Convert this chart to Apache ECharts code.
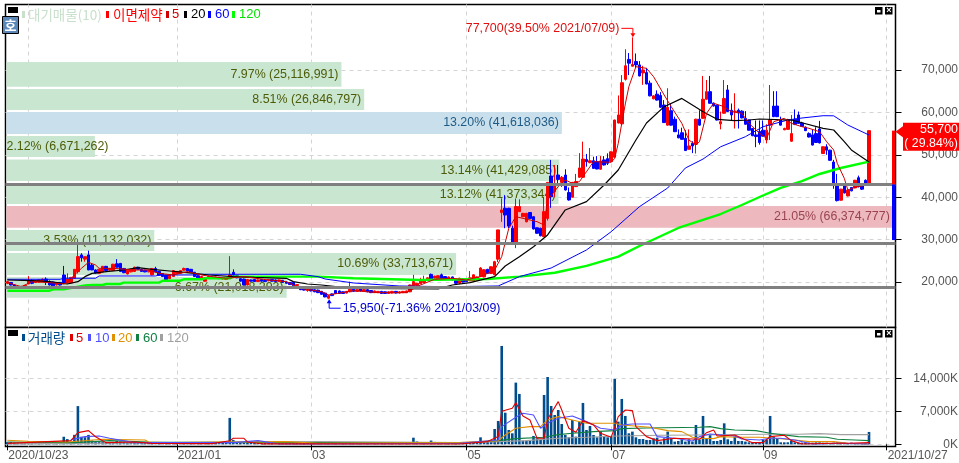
<!DOCTYPE html>
<html><head><meta charset="utf-8">
<style>html,body{margin:0;padding:0;background:#fff}#c{width:959px;height:463px}</style>
<script src="https://cdn.jsdelivr.net/npm/echarts@6/dist/echarts.min.js"></script>
</head><body><div id="c"></div>
<script>
const tickIdx=[0,48,86,130,171,214,249];
const tickText=['2020/10/23','2021/01','03','05','07','09','2021/10/27'];
const gridIdx=[6,48,86,130,171,214,249];
const slotCount=252;
const priceTicks=[20000,30000,40000,50000,60000,70000];
const volTicks=[0,7000,14000];
// open, close, low, high
const candles=[
[19700,20100,19500,20200],[19900,19300,19200,20000],[19300,18900,18800,19400],[18900,18800,18700,19100],[18800,19000,18700,19100],[19000,19200,18900,19300],[19550,20300,19500,21400],[20300,19700,19500,20600],[19900,20300,19800,20400],[20000,20500,19900,20600],
[20100,20700,20000,20800],[20700,20200,19300,21100],[20100,19300,19200,20400],[20000,19100,19000,20100],[19300,19900,19200,20000],[19900,19300,19200,20000],[21660,19800,19700,23800],[19800,20700,19700,22050],[19800,21100,19700,21150],[20900,23000,20800,23000],
[22450,26000,22000,28740],[26400,25700,24800,26800],[25400,25990,24800,26000],[26400,22850,22800,27400],[24000,22850,22800,24400],[22850,22100,22000,23000],[22050,23000,21950,23100],[22400,23700,22300,23800],[23700,22700,22600,23800],[22800,23200,22700,23300],
[22700,24200,22600,24300],[24300,23500,23400,25400],[24400,22500,22400,24500],[23200,22200,22100,23300],[21900,22800,21800,22900],[22400,23000,22300,23100],[22500,23500,22400,23600],[23500,23000,22900,23600],[23000,22500,22400,23100],[22800,22400,22300,22900],
[22400,22800,22300,22900],[21700,23200,21600,23300],[23200,22400,22300,23600],[22500,21600,21500,22600],[22000,21300,21200,22100],[21600,20600,20500,21700],[20800,21700,20700,21800],[21300,22700,21200,22800],[22000,22500,21900,22600],[22100,22700,22000,22800],
[22800,23200,22700,23400],[23200,22600,22500,23300],[23000,22300,22200,23100],[22300,21300,21200,22400],[21500,21000,20900,21600],[21000,21300,20900,21400],[20200,21000,20100,21100],[21000,21300,20900,21500],[21200,20900,20800,21300],[20900,21200,20800,21300],
[21100,20800,20700,21200],[20700,21000,20600,21100],[20600,21000,20500,21100],[21200,21700,21000,26100],[22300,21600,21500,23000],[21500,21000,20900,21600],[20800,20200,20100,20900],[20700,19300,19200,20800],[19300,20600,19200,20700],[20500,20200,20100,20600],
[20600,20100,20000,20700],[20100,20500,20000,20600],[20600,20200,20100,20700],[20400,20100,20000,20500],[20300,20600,20200,20700],[20600,20200,20100,20700],[20500,20100,20000,20600],[20200,20500,20100,20600],[20400,19900,19800,20500],[20000,19700,19600,20100],
[19900,19400,19300,20000],[19900,19100,19000,20000],[19200,19400,19100,19500],[18600,18200,18100,18700],[18600,18100,18000,18700],[18000,18200,17700,18300],[18300,17900,17800,18400],[18200,17700,17600,18300],[18100,17500,17400,18200],[17800,17100,17000,17900],
[17400,16500,16400,17500],[16200,16800,15950,17000],[17200,16800,16700,17300],[18000,17300,17200,18100],[17900,17300,17200,18000],[17700,17300,17200,17800],[17400,17800,17300,17900],[17700,18300,17600,20100],[18300,17800,17700,18400],[17800,18200,17700,18300],
[18400,17900,17800,18500],[17800,18200,17700,18300],[18200,17700,17600,18300],[18000,17500,17400,18100],[17500,17900,17400,18000],[17500,17800,17400,17900],[17800,17300,17200,17900],[17700,17300,17200,17800],[17300,17700,17200,17800],[17400,17800,17300,17900],
[17800,17400,17300,17900],[17400,17700,17300,17800],[17500,17800,17400,17900],[17500,17900,17400,18000],[17700,19300,17600,19400],[18500,20100,18400,21700],[19200,19700,19100,19800],[19600,20500,19500,21000],[19900,20500,19800,21500],[20500,21000,20400,21100],
[21800,20700,20600,22000],[20900,21400,20800,21500],[20700,21500,20600,21600],[21700,20800,20700,22000],[21300,20700,20600,21400],[20700,21200,20600,21300],[21200,20500,20400,21300],[20400,19700,19600,20500],[19700,20900,19600,21000],[20700,20000,19900,20800],
[20500,20100,20000,20600],[20300,21000,20200,22600],[20300,21700,20200,21800],[20500,21200,20400,21300],[21300,23300,21200,23500],[21200,22900,21100,23000],[23000,22000,21900,23100],[22000,23600,21900,23700],[21700,24800,21600,25000],[25400,32300,24700,32300],
[36400,37000,34200,39740],[37400,35800,32700,40500],[37400,33200,32700,37500],[32700,29400,29300,33300],[29300,37800,28000,39700],[36600,37800,36500,39500],[35400,36200,35300,36300],[34200,36200,34100,36300],[36400,35000,34900,36500],[35400,32500,32400,35500],
[32800,31500,31400,32900],[32700,30900,30800,32800],[30700,36600,30600,40100],[35000,43500,34500,43500],[45000,40100,37500,48800],[41300,42900,40000,47600],[45240,44200,42900,47600],[43500,44700,42400,45000],[45240,41700,41600,46600],[41100,39350,39200,42300],
[40000,43500,39900,43600],[42500,43700,42400,45500],[44700,46900,44600,50400],[44700,49000,44600,53100],[48900,48400,47200,50200],[48150,48600,48000,51600],[48600,46800,46700,49550],[48400,46650,46600,49700],[46600,48550,46500,49700],[48800,47600,47500,49700],
[49100,48000,47600,50350],[48400,50700,48300,50800],[49450,58200,49300,58300],[57500,59400,57400,64000],[57300,67000,57000,68800],[67800,71000,67500,74900],[72500,71600,68800,74000],[70900,71300,70800,77700],[72000,71200,70500,73900],[71200,68600,68500,72100],
[69300,70000,66500,71000],[69400,66700,66600,70500],[66900,63900,63800,67500],[63200,63900,63100,64000],[64300,62900,62800,65200],[64000,61200,61100,64800],[61750,57600,57500,62900],[57000,61200,56900,65700],[60400,57000,56900,62000],[58400,55450,55400,59000],
[54700,54000,53900,56000],[55200,53650,53600,56400],[53900,51000,50900,55800],[51300,52100,51200,56000],[52700,52100,50400,53200],[52500,58400,50300,58500],[58400,57000,56900,60500],[58600,63100,58500,68600],[63100,64900,63000,67640],[64900,62150,62100,68600],
[62200,61500,61400,62300],[61700,58200,58100,61800],[57300,57800,56000,60200],[59800,63300,59700,67640],[65300,60200,60100,66460],[60500,59400,58000,62100],[60200,60300,56200,64500],[60500,59900,56200,60900],[60300,58700,58600,60500],[58600,57200,57100,60300],
[58200,55800,55700,58300],[56200,54500,54400,56300],[54700,54300,51800,58100],[55500,52900,52400,58100],[55800,54400,54300,58100],[53500,55800,52700,57200],[57000,58200,53500,66460],[61500,59000,58900,65000],[61500,59000,58900,65000],[58300,57000,56900,59000],
[55900,56200,55800,56400],[56000,58300,55900,58500],[53200,55000,53100,59400],[58400,57200,57000,60700],[59400,57400,57300,60200],[57500,56700,56600,57800],[56500,55700,55600,56700],[55000,54200,54100,55300],[54700,52300,52200,56000],[55000,52900,52800,56500],
[56100,52800,52700,58000],[50300,51900,50200,52000],[51900,51100,50000,52500],[51100,48700,48600,51200],[48300,42800,42000,48800],[42800,39200,39000,45500],[39300,41900,39200,42000],[43000,41000,40900,43100],[40300,41700,40200,41800],[42300,41500,41400,42400],
[42200,44000,42100,44100],[44600,42500,42300,45100],[43200,41900,41700,43300],[44000,43000,42700,44200],[43300,55700,43200,55700]];
const volumes=[
450,500,400,350,300,350,600,400,350,400,
300,500,400,350,300,400,1600,1100,500,2000,
8100,1600,1500,2000,800,700,650,600,500,450,
500,700,600,500,400,450,500,400,350,300,
300,450,400,400,350,500,400,350,350,300,
300,350,300,400,300,300,350,300,300,250,
250,300,400,5600,900,500,500,450,500,400,
350,600,400,350,300,300,350,300,300,350,
300,350,300,350,300,400,300,300,250,300,
350,600,500,450,350,300,350,400,300,300,
250,250,300,250,200,300,250,200,250,300,
200,250,300,300,350,1400,600,450,400,350,
800,500,400,450,350,400,300,450,350,300,
300,350,350,500,1480,400,570,780,3250,4950,
20860,6700,3040,2330,13080,10680,780,780,780,1770,
1270,920,10460,14280,8130,6220,7280,4310,1980,1480,
5160,1630,4810,8770,3040,3890,1980,1480,2690,1770,
1480,1630,13860,4810,9620,6010,2330,2690,1480,1130,
1130,920,920,1270,1410,570,1270,2690,1270,570,
710,1060,570,1060,570,4100,1000,6010,1270,1980,
710,710,920,4450,1060,710,1630,710,710,570,
420,420,420,500,920,1000,6010,1630,1270,420,
420,420,780,420,350,350,420,350,350,420,
420,350,350,210,350,420,420,350,210,350,
280,210,210,280,2620];
// [slot, price] read at line vertices
const ma5=[[0,19850],[4,18910],[7,20090],[12,19850],[16,19540],[17,19850],[19,21660],[21,23230],[23,24650],[25,24020],[26,23230],[30,23230],[36,22840],[40,22840],[43,22050],[47,21660],[51,22450],[55,21660],[58,21270],[62,20880],[67,21270],[74,20480],[79,20090],[83,18520],[89,17730],[91,16950],[98,17970],[105,17500],[113,17500],[117,19300],[121,20640],[126,20880],[130,20480],[134,21270],[138,22840],[140,25990],[142,32670],[144,35420],[150,34240],[152,33450],[153,39350],[156,42490],[158,44060],[160,43280],[162,43670],[164,46020],[166,48380],[171,48230],[172,49180],[173,52700],[174,57430],[175,62000],[176,66060],[178,70780],[181,70400],[183,68420],[186,64100],[188,61350],[191,57430],[193,53490],[195,52300],[196,53090],[198,59790],[200,62150],[203,61350],[205,60170],[208,59790],[210,57430],[213,55070],[215,53890],[217,57800],[220,58610],[222,57430],[225,56630],[227,56250],[230,55450],[232,53090],[234,51140],[235,48000],[237,44460],[238,41700],[240,42330],[242,42650],[244,43280]];
const ma20=[[0,20480],[7,20330],[12,20090],[17,19540],[20,20090],[22,21270],[24,22050],[28,22450],[33,22840],[37,23400],[41,23000],[46,22600],[51,22200],[57,21660],[64,21270],[70,21100],[79,20880],[81,20090],[85,19540],[89,19300],[93,18910],[98,18520],[122,18400],[126,19300],[131,19850],[138,21270],[141,23780],[145,25990],[149,28340],[153,31100],[158,37000],[164,38950],[169,42880],[173,46420],[178,53490],[181,57500],[186,61350],[191,63300],[195,61200],[197,60170],[201,58370],[206,58040],[210,58210],[213,58450],[222,58200],[225,57570],[231,56250],[234,55850],[237,53090],[239,51140],[244,48300]];
const ma60=[[0,20650],[15,20650],[16,20900],[25,20900],[26,21430],[42,21430],[43,21660],[53,21660],[54,21830],[83,21830],[88,21270],[90,20720],[98,19780],[111,19070],[125,18900],[139,19070],[145,21270],[154,23310],[164,27560],[171,31870],[179,37770],[187,42180],[192,46890],[197,49000],[202,51900],[209,54270],[214,56630],[221,58200],[225,58680],[231,59220],[234,59200],[238,57030],[244,54670]];
const ma120=[[0,17960],[12,17960],[13,18270],[16,18270],[22,19200],[24,19300],[27,19300],[28,19540],[32,19540],[33,19850],[43,19850],[44,20310],[49,20310],[50,20640],[55,20640],[56,20880],[63,20880],[64,21270],[88,21270],[98,20880],[117,20480],[136,20720],[145,21270],[155,22200],[164,23800],[173,25980],[179,28500],[190,32750],[202,36040],[208,38170],[213,40050],[219,42180],[225,43800],[230,45480],[236,46890],[244,48380]];
const volMa5=[[0,200],[18,770],[20,2470],[23,2900],[25,1600],[28,350],[36,500],[41,200],[58,150],[63,770],[64,1270],[67,1270],[68,500],[72,100],[88,100],[128,70],[136,570],[139,1630],[140,7000],[143,7640],[144,8840],[146,6010],[148,5160],[150,1270],[152,1270],[153,5300],[156,9050],[157,7280],[159,3390],[161,2550],[163,5020],[166,4100],[168,2330],[171,1480],[173,5870],[175,7280],[177,7140],[178,3750],[181,1630],[184,780],[189,1270],[196,1060],[198,2470],[200,3040],[201,1770],[206,1980],[208,1270],[211,350],[214,350],[216,1630],[220,1910],[222,780],[225,70],[234,210],[238,210],[244,350]];
const volMa10=[[18,900],[22,1630],[26,1770],[29,1270],[36,350],[49,350],[64,350],[71,780],[77,70],[88,70],[128,210],[139,920],[140,3750],[144,5730],[146,6580],[149,6220],[151,3390],[153,4450],[156,5510],[160,6010],[164,4810],[168,3390],[172,3040],[174,4100],[177,4310],[182,4310],[184,1630],[189,1270],[194,710],[196,1630],[199,2190],[206,1770],[208,1130],[213,920],[216,1270],[219,1270],[223,920],[228,70],[236,210],[244,70]];
const volMa20=[[0,850],[6,640],[17,500],[27,1060],[39,920],[40,500],[45,350],[62,500],[79,570],[88,210],[128,350],[139,780],[141,1980],[144,3390],[148,3750],[151,3750],[153,5160],[156,5870],[160,5160],[164,4450],[172,4450],[174,4100],[182,3610],[187,2900],[191,2690],[194,1480],[196,1270],[200,1200],[202,1630],[207,1480],[213,1480],[221,1060],[227,570],[234,570],[238,210],[244,70]];
const volMa60=[[0,500],[19,350],[29,780],[40,500],[88,350],[128,210],[139,780],[144,1200],[152,1480],[156,2050],[160,2330],[166,2690],[172,2900],[174,3320],[181,3460],[196,3610],[199,3750],[202,3320],[206,3040],[212,2900],[216,2330],[224,1630],[232,1480],[235,1060],[240,920],[244,780]];
const volMa120=[[0,100],[50,350],[88,570],[128,350],[139,570],[147,780],[156,1270],[164,1480],[173,1770],[185,1910],[196,1980],[215,2120],[224,2120],[230,2260],[236,2050],[244,2050]];
// price-by-volume bands: share %, range low/high, label
const bandShare=[7.97,8.51,13.20,2.12,13.14,13.12,21.05,3.53,10.69,6.67];
const bandLow=[66060,60570,54910,49480,43830,38400,32810,27320,21660,16310];
const bandHigh=[71890,65520,60100,54440,48900,42650,37930,32270,26850,21190];
const bandText=['7.97% (25,116,991)','8.51% (26,846,797)','13.20% (41,618,036)','2.12% (6,671,262)','13.14% (41,429,085)','13.12% (41,373,344)','21.05% (66,374,777)','3.53% (11,132,032)','10.69% (33,713,671)','6.67% (21,018,293)'];
const bandKind=['g','g','b','g','g','g','r','g','g','g'];
const supportLevels=[43050,29135,18760];
const highNote={slot:177,price:77700,text:'77,700(39.50% 2021/07/09)'};
const lowNote={slot:91,price:15950,text:'15,950(-71.36% 2021/03/09)'};
const lastPrice=55700, priceTagPct='( 29.84%)', rangeMid=43000, rangeLow=29900;
const legendMain=['대기매물(10)','이면제약','5','20','60','120'];
const legendVol=['거래량','5','10','20','60','120'];

const FONT='"Liberation Sans","Noto Sans CJK KR",sans-serif';
const KFONT='"Noto Sans CJK KR","Liberation Sans",sans-serif';
const SHARE_MAX=21.115;
const fill={g:'#c9e6d0',b:'#c9e0ec',r:'#edb9be'};
const ink={g:'#4e5c08',b:'#1f5a86',r:'#9a4450'};
const categories=Array.from({length:slotCount},(_,i)=>{const k=tickIdx.indexOf(i);return k>=0?tickText[k]:''+i;});
const dash={color:'#d4d4d4',type:[4,4],width:1};

function lineS(name,data,color,width,xi,yi,z,extra){
  return Object.assign({name,type:'line',data,xAxisIndex:xi,yAxisIndex:yi,symbol:'none',showSymbol:false,silent:true,z,
    lineStyle:{color,width},itemStyle:{color},animation:false},extra||{});
}
function vMark(){return {silent:true,symbol:'none',z:0,label:{show:false},lineStyle:dash,animation:false,data:gridIdx.map(i=>({xAxis:i}))};}

const option={
  animation:false,
  grid:[
    {left:5.5,top:4.5,width:890,height:323,outerBoundsMode:'none',show:true,borderColor:'#000',borderWidth:1.5,backgroundColor:'#fff'},
    {left:5.5,top:327.5,width:890,height:119,outerBoundsMode:'none',show:true,borderColor:'#000',borderWidth:1.5,backgroundColor:'#fff'}
  ],
  xAxis:[
    {type:'category',gridIndex:0,data:categories,boundaryGap:true,axisLine:{show:false},axisTick:{show:false},axisLabel:{show:false},splitLine:{show:false}},
    {type:'category',gridIndex:1,data:categories,boundaryGap:true,axisLine:{show:false},
      axisTick:{show:true,alignWithLabel:true,length:6,interval:(i)=>tickIdx.includes(i),lineStyle:{color:'#000'}},
      axisLabel:{show:true,interval:(i)=>tickIdx.includes(i),align:'left',margin:3,color:'#555',fontFamily:FONT,fontSize:12,padding:[0,0,0,1]},splitLine:{show:false}},
    {type:'value',gridIndex:0,min:0,max:SHARE_MAX,show:false}
  ],
  yAxis:[
    {type:'value',gridIndex:0,position:'right',min:9280,max:85445,
      axisLine:{show:true,onZero:false,lineStyle:{color:'#000'}},
      axisTick:{show:true,length:6,customValues:priceTicks,lineStyle:{color:'#000'}},
      axisLabel:{customValues:priceTicks,align:'right',margin:62.5,color:'#555',fontFamily:FONT,fontSize:12,formatter:v=>Number(v).toLocaleString('en-US')},
      splitLine:{show:true,lineStyle:dash}},
    {type:'value',gridIndex:1,position:'right',min:-467,max:24773,
      axisLine:{show:true,onZero:false,lineStyle:{color:'#000'}},
      axisTick:{show:true,length:6,customValues:volTicks,lineStyle:{color:'#000'}},
      axisLabel:{customValues:volTicks,align:'right',margin:62.5,color:'#555',fontFamily:FONT,fontSize:12,formatter:v=>Number(v).toLocaleString('en-US')+'K'},
      splitLine:{show:true,lineStyle:dash}}
  ],
  series:[
    {type:'custom',name:'bands',xAxisIndex:2,yAxisIndex:0,z:1,silent:true,
      data:bandShare.map((s,i)=>[s,bandLow[i],bandHigh[i]]),encode:{x:0,y:[1,2]},
      renderItem:(p,api)=>{
        const i=p.dataIndex,k=bandKind[i];
        const a=api.coord([0,bandHigh[i]]),b=api.coord([bandShare[i],bandLow[i]]);
        const left=bandShare[i]<3;
        return {type:'group',children:[
          {type:'rect',shape:{x:a[0]+1,y:a[1],width:b[0]-a[0]-1,height:b[1]-a[1]},style:{fill:fill[k]}},
          {type:'text',style:{x:left?a[0]+1:b[0]-3,y:(a[1]+b[1])/2,text:bandText[i],fill:ink[k],font:'12.4px '+FONT,textAlign:left?'left':'right',textVerticalAlign:'middle'}}
        ]};
      }},
    {type:'candlestick',name:'price',data:candles,xAxisIndex:0,yAxisIndex:0,barWidth:3,z:2,silent:true,
      itemStyle:{color:'#ff0000',color0:'#0000ff',borderColor:'#ff0000',borderColor0:'#0000ff',borderWidth:1}},
    lineS('ma120',ma120,'#00ff00',2.4,0,0,3,{markLine:{silent:true,symbol:'none',z:10,label:{show:false},lineStyle:{color:'#808080',width:3.2,type:'solid'},animation:false,data:supportLevels.map(v=>({yAxis:v}))}}),
    lineS('ma60',ma60,'#0000ff',1,0,0,4,{markLine:vMark()}),
    lineS('ma20',ma20,'#000000',1.2,0,0,5),
    lineS('ma5',ma5,'#d00000',1,0,0,6),
    {type:'custom',name:'notes',xAxisIndex:0,yAxisIndex:0,z:11,silent:true,data:[[highNote.slot,highNote.price],[lowNote.slot,lowNote.price]],encode:{x:0,y:1},
      renderItem:(p,api)=>{
        const c=api.coord([api.value(0),api.value(1)]),x=c[0],y=c[1];
        if(p.dataIndex===0){
          return {type:'group',children:[
            {type:'polyline',shape:{points:[[x-11,y-9],[x+.5,y-9],[x+.5,y-3]]},style:{stroke:'#ff0000',fill:null,lineWidth:1}},
            {type:'polygon',shape:{points:[[x-2,y-4],[x+3,y-4],[x+.5,y]]},style:{fill:'#ff0000'}},
            {type:'text',style:{x:x-13,y:y-9,text:highNote.text,fill:'#e01010',font:'12.4px '+FONT,textAlign:'right',textVerticalAlign:'middle'}}
          ]};
        }
        return {type:'group',children:[
          {type:'polyline',shape:{points:[[x+.5,y+3],[x+.5,y+9],[x+12,y+9]]},style:{stroke:'#0000ff',fill:null,lineWidth:1}},
          {type:'polygon',shape:{points:[[x-2,y+4],[x+3,y+4],[x+.5,y]]},style:{fill:'#0000ff'}},
          {type:'text',style:{x:x+14,y:y+9,text:lowNote.text,fill:'#0000d0',font:'12.4px '+FONT,textAlign:'left',textVerticalAlign:'middle'}}
        ]};
      }},
    {type:'custom',name:'priceTag',xAxisIndex:2,yAxisIndex:0,z:12,silent:true,data:[[SHARE_MAX,lastPrice,rangeMid,rangeLow]],encode:{x:0,y:[1,2,3]},
      renderItem:(p,api)=>{
        const a=api.coord([SHARE_MAX,lastPrice]),m=api.coord([SHARE_MAX,rangeMid]),l=api.coord([SHARE_MAX,rangeLow]);
        const x=a[0],y=a[1];
        return {type:'group',children:[
          {type:'rect',shape:{x:x-3.5,y:y,width:3.5,height:m[1]-y},style:{fill:'#ff0000'}},
          {type:'rect',shape:{x:x-3.5,y:m[1],width:3.5,height:l[1]-m[1]},style:{fill:'#0000ff'}},
          {type:'polygon',shape:{points:[[x,y+1],[x+8,y-5],[x+8,y+7]]},style:{fill:'#ff0000'}},
          {type:'rect',shape:{x:x+7.5,y:y-8,width:56,height:28},style:{fill:'#ff0000'}},
          {type:'text',style:{x:x+62.5,y:y-1,text:Number(lastPrice).toLocaleString('en-US'),fill:'#fff',font:'12.4px '+FONT,textAlign:'right',textVerticalAlign:'middle'}},
          {type:'text',style:{x:x+62.5,y:y+13,text:priceTagPct,fill:'#fff',font:'12.4px '+FONT,textAlign:'right',textVerticalAlign:'middle'}}
        ]};
      }},
    {type:'bar',name:'volume',data:volumes,xAxisIndex:1,yAxisIndex:1,barWidth:2.6,z:2,silent:true,itemStyle:{color:'#004c8c'},markLine:vMark()},
    lineS('v120',volMa120,'#a0a0a0',1.1,1,1,3),
    lineS('v60',volMa60,'#108040',1.1,1,1,4),
    lineS('v20',volMa20,'#e09000',1.1,1,1,5),
    lineS('v10',volMa10,'#5050ff',1.1,1,1,6),
    lineS('v5',volMa5,'#e00000',1.1,1,1,7)
  ],
  graphic:{elements:[]}
};

function txt(x,y,t,c,f){return {type:'text',z:50,silent:true,style:{x,y,text:t,fill:c,font:f||('13px '+FONT),textVerticalAlign:'middle'}};}
function box(x,y,w,h,c,s){return {type:'rect',z:50,silent:true,shape:{x,y,width:w,height:h},style:{fill:c,stroke:s||null,lineWidth:s?1:0}};}
const g=[];
g.push(box(8,7,10,6,'#000'));
g.push(box(22,11,3,7,'#c9e0cc'),txt(28,14.5,legendMain[0],'#c9e0cc','13.5px '+KFONT));
g.push(box(106,11,3,7,'#ff0000'),txt(113,14.5,legendMain[1],'#ff0000','13.5px '+KFONT));
g.push(box(166,11,3,7,'#d00000'),txt(172,14.5,legendMain[2],'#d00000'));
g.push(box(184,11,3,7,'#000'),txt(191,14.5,legendMain[3],'#000'));
g.push(box(208,11,3,7,'#0000ff'),txt(215,14.5,legendMain[4],'#0000ff'));
g.push(box(232,11,3,7,'#00ff00'),txt(239,14.5,legendMain[5],'#00e000'));
g.push(box(2.5,16.5,16,17,'#5b87b8','#000'),{type:'text',z:51,silent:true,style:{x:10.5,y:25.5,text:'호',fill:'#fff',font:'bold 13px '+KFONT,textAlign:'center',textVerticalAlign:'middle'}});
g.push(box(8,330,10,6,'#000'));
g.push(box(22,334,3,7,'#004c8c'),txt(28,338,legendVol[0],'#004c8c','13.5px '+KFONT));
g.push(box(70,334,3,7,'#e00000'),txt(76,338,legendVol[1],'#e00000'));
g.push(box(88,334,3,7,'#5050ff'),txt(95,338,legendVol[2],'#5050ff'));
g.push(box(112,334,3,7,'#e09000'),txt(118,338,legendVol[3],'#e09000'));
g.push(box(136,334,3,7,'#108040'),txt(143,338,legendVol[4],'#108040'));
g.push(box(160,334,3,7,'#a0a0a0'),txt(167,338,legendVol[5],'#a0a0a0'));
[[875,7],[885,7],[875,330],[885,330]].forEach((p,i)=>{
  g.push(box(p[0],p[1],7.5,7.5,'#000'));
  if(i%2===0) g.push(box(p[0]+2,p[1]+3,3.5,2.5,'#fff'));
  else g.push({type:'text',z:51,silent:true,style:{x:p[0]+3.8,y:p[1]+3.8,text:'×',fill:'#fff',font:'bold 9px '+FONT,textAlign:'center',textVerticalAlign:'middle'}});
});
option.graphic.elements=g;
const chart=echarts.init(document.getElementById('c'),null,{renderer:'canvas',width:959,height:463});
chart.setOption(option);
</script></body></html>
